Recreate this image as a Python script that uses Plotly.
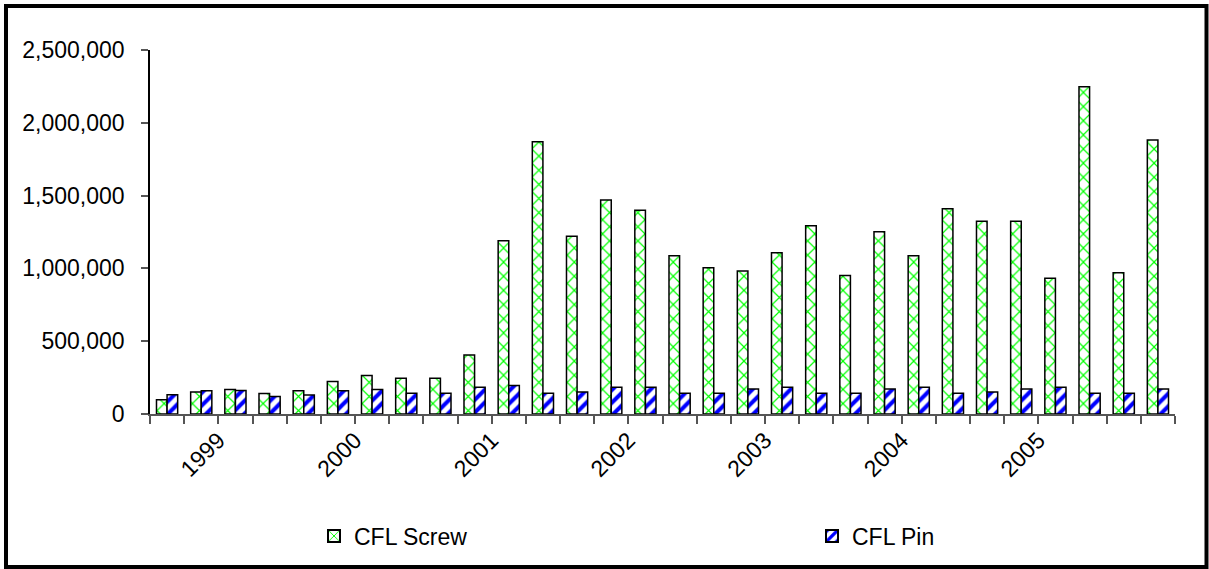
import plotly.graph_objects as go

# Quarterly shipments, 30 periods
cfl_screw = [98000, 151000, 169000, 140000, 160000, 224000, 265000, 245000, 245000, 405000,
             1190000, 1870000, 1220000, 1470000, 1399000, 1087000, 1005000, 982000, 1108000, 1293000,
             952000, 1252000, 1087000, 1410000, 1323000, 1323000, 932000, 2248000, 970000, 1882000]
cfl_pin = [133000, 160000, 162000, 121000, 131000, 160000, 169000, 142000, 142000, 183000,
           195000, 142000, 151000, 183000, 183000, 142000, 142000, 172000, 183000, 142000,
           142000, 172000, 183000, 142000, 151000, 172000, 183000, 142000, 142000, 172000]
year_labels = ["1999", "2000", "2001", "2002", "2003", "2004", "2005"]
year_positions = [1.5, 5.5, 9.5, 13.5, 17.5, 21.5, 25.5]
series_names = ["CFL Screw", "CFL Pin"]

W, H = 1209, 569
ML, MR, MT, MB = 150, 34, 50, 155
PW, PH = W - ML - MR, H - MT - MB

x = list(range(len(cfl_screw)))
font = dict(family="Liberation Sans, Arial, sans-serif", size=23, color="#000000")

fig = go.Figure()
fig.add_trace(go.Bar(
    x=x, y=cfl_screw, name=series_names[0], legend="legend",
    marker=dict(color="#ffffff",
                line=dict(color="#000000", width=1.5),
                pattern=dict(shape="x", fgcolor="#00ff00", bgcolor="#ffffff",
                             fgopacity=1, size=10, solidity=0.22, fillmode="overlay")),
))
fig.add_trace(go.Bar(
    x=x, y=cfl_pin, name=series_names[1], legend="legend2",
    marker=dict(color="#ffffff",
                line=dict(color="#000000", width=1.5),
                pattern=dict(shape="/", fgcolor="#0000ff", bgcolor="#ffffff",
                             fgopacity=1, size=9, solidity=0.45, fillmode="overlay")),
))

legend_y = (MT + PH - 536) / PH
legend_common = dict(xanchor="left", y=legend_y, yanchor="middle",
                     font=font, bgcolor="rgba(0,0,0,0)", itemsizing="constant")

fig.update_layout(
    width=W, height=H,
    margin=dict(l=ML, r=MR, t=MT, b=MB),
    paper_bgcolor="#ffffff", plot_bgcolor="#ffffff",
    barmode="group", bargap=0.38, bargroupgap=0.0,
    font=font,
    showlegend=True,
    legend=dict(x=(314 - ML) / PW, **legend_common),
    legend2=dict(x=(812 - ML) / PW, **legend_common),
    xaxis=dict(range=[-0.5, len(x) - 0.5], showgrid=False, zeroline=False,
               showline=True, linecolor="#555555", linewidth=1.5,
               tickmode="array", tickvals=year_positions, ticktext=year_labels,
               ticks="", tickangle=-45, ticklabelstandoff=2, tickfont=font,
               minor=dict(tickmode="array",
                          tickvals=[i - 0.5 for i in range(len(x) + 1)],
                          ticks="outside", ticklen=8, tickwidth=1.5,
                          tickcolor="#555555", showgrid=False)),
    yaxis=dict(range=[0, 2500000], showgrid=False, zeroline=False,
               showline=True, linecolor="#000000", linewidth=1.5,
               tickmode="linear", tick0=0, dtick=500000, tickformat=",d",
               ticks="outside", ticklen=7, tickwidth=1.5, tickcolor="#555555",
               ticklabelstandoff=12, tickfont=font),
)

# Outer frame around the whole chart
fig.add_shape(type="rect", xref="paper", yref="paper",
              x0=(6 - ML) / PW, x1=(W - 2.5 - ML) / PW,
              y0=(MT + PH - (H - 2)) / PH, y1=(MT + PH - 6) / PH,
              line=dict(color="#000000", width=4), fillcolor="rgba(0,0,0,0)",
              layer="above")

fig.write_html("out.html")
